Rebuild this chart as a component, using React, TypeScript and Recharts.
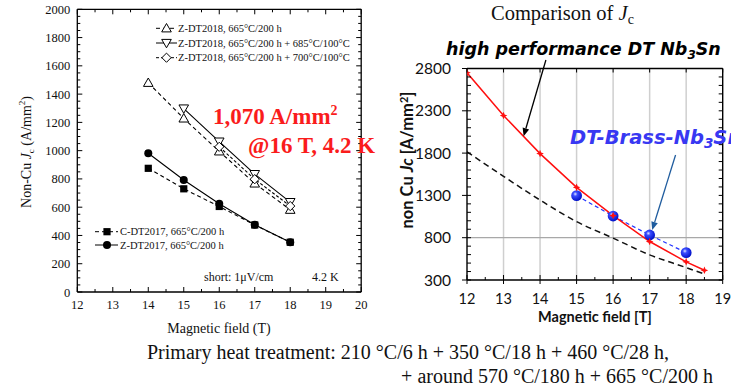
import React from 'react';
import { LineChart, Line, XAxis, YAxis, ReferenceLine } from 'recharts';

const SERIF = '"Liberation Serif", "Times New Roman", serif';
const SANS = 'Lato, "Noto Sans", sans-serif';
const POP = '"DejaVu Sans", sans-serif';

// ---------------- left panel data ----------------
const leftFields = [14, 15, 16, 17, 18];
const zdt2018Base = [1480, 1228, 995, 768, 582];
const zdt2018Plus685 = [null, 1298, 1064, 834, 636];
const zdt2018Plus700 = [null, null, 1027, 798, 608];
const cdt2017Base = [875, 730, 605, 474, 352];
const zdt2017Base = [982, 792, 624, 476, 352];

const leftLegendTop = [
  'Z-DT2018, 665°C/200 h',
  'Z-DT2018, 665°C/200 h + 685°C/100°C',
  'Z-DT2018, 665°C/200 h + 700°C/100°C',
];
const leftLegendBottom = ['C-DT2017, 665°C/200 h', 'Z-DT2017, 665°C/200 h'];

const leftXMajor = [12, 13, 14, 15, 16, 17, 18, 19, 20];
const leftYMajor = [0, 200, 400, 600, 800, 1000, 1200, 1400, 1600, 1800, 2000];

// ---------------- right panel data ----------------
const rightRedFields = [12, 13, 14, 15, 16, 17, 18, 18.5];
const rightRedJc = [2750, 2244, 1794, 1395, 1062, 755, 515, 415];
const rightBlueFields = [15, 16, 17, 18];
const rightBlueJc = [1297, 1056, 832, 623];
const rightBlackFields = [12, 13, 14, 15, 16, 17, 18, 18.5];
const rightBlackJc = [1815, 1525, 1245, 990, 795, 597, 447, 370];

const rightXMajor = [12, 13, 14, 15, 16, 17, 18, 19];
const rightYMajor = [300, 800, 1300, 1800, 2300, 2800];
const rightGridX = [13, 14, 15, 16, 17, 18];
const rightGridY = [800];

// annotation arrows (data coordinates of the right panel)
const blackArrow = [{ x: 14.16, y: 2900 }, { x: 13.55, y: 2000 }];
const blueArrow = [{ x: 17.71, y: 1778 }, { x: 17.07, y: 891 }];

const range = (a: number, b: number, step: number) => {
  const out: number[] = [];
  for (let v = a; v <= b + 1e-9; v += step) out.push(Math.round(v * 100) / 100);
  return out;
};
const leftXTicks = range(12, 20, 0.5);
const leftYTicks = range(0, 2000, 50);
const rightXTicks = range(12, 19, 0.5);
const rightYTicks = range(300, 2800, 100);

const toPoints = (xs: number[], ys: (number | null)[]) =>
  xs.map((x, i) => ({ field: x, jc: ys[i] })).filter((p) => p.jc !== null);

type Side = 'bottom' | 'top' | 'left' | 'right';
interface TickCfg {
  side: Side;
  major: number[];
  majorLen: number;
  minorLen: number;
  outLen?: number;
  label?: { font: string; size: number; gap: number };
}

function makeTick(cfg: TickCfg) {
  const { side, major, majorLen, minorLen, outLen = 0, label } = cfg;
  return (props: any) => {
    const { x, y, payload, index } = props;
    const v = Number(payload.value);
    const isMajor = major.some((m) => Math.abs(m - v) < 1e-6);
    const inLen = isMajor ? majorLen : minorLen;
    const o = isMajor ? outLen : 0;
    let x1 = x, y1 = y, x2 = x, y2 = y;
    if (side === 'bottom') { y1 = y + o; y2 = y - inLen; }
    if (side === 'top') { y1 = y - o; y2 = y + inLen; }
    if (side === 'left') { x1 = x - o; x2 = x + inLen; }
    if (side === 'right') { x1 = x + o; x2 = x - inLen; }
    let text = null;
    if (label && isMajor) {
      const common = { fontFamily: label.font, fontSize: label.size, fill: '#111' };
      if (side === 'bottom')
        text = <text x={x} y={y + label.gap} textAnchor="middle" {...common}>{v}</text>;
      else if (side === 'left')
        text = <text x={x - label.gap} y={y} dy="0.36em" textAnchor="end" {...common}>{v}</text>;
    }
    return (
      <g key={`t-${side}-${index}`}>
        {inLen + o > 0 && <line x1={x1} y1={y1} x2={x2} y2={y2} stroke="#000" strokeWidth={1} />}
        {text}
      </g>
    );
  };
}

type MarkerKind = 'triUp' | 'triDown' | 'diamond' | 'square' | 'circle';

function Marker({ kind, cx, cy }: { kind: MarkerKind; cx: number; cy: number }) {
  const st = { stroke: '#000', strokeWidth: 1 };
  if (kind === 'triUp') {
    const s = 4.8;
    return <polygon points={`${cx},${cy - s} ${cx - s},${cy + s * 0.75} ${cx + s},${cy + s * 0.75}`} fill="#fff" {...st} />;
  }
  if (kind === 'triDown') {
    const s = 4.8;
    return <polygon points={`${cx},${cy + s} ${cx - s},${cy - s * 0.75} ${cx + s},${cy - s * 0.75}`} fill="#fff" {...st} />;
  }
  if (kind === 'diamond') {
    const s = 4.6;
    return <polygon points={`${cx},${cy - s} ${cx + s},${cy} ${cx},${cy + s} ${cx - s},${cy}`} fill="#fff" {...st} />;
  }
  if (kind === 'square') {
    const s = 3.6;
    return <rect x={cx - s} y={cy - s} width={2 * s} height={2 * s} fill="#000" />;
  }
  return <circle cx={cx} cy={cy} r={4} fill="#000" />;
}

const leftSeries: { name: string; ys: (number | null)[]; marker: MarkerKind; dash?: string }[] = [
  { name: leftLegendBottom[0], ys: cdt2017Base, marker: 'square', dash: '4 3' },
  { name: leftLegendBottom[1], ys: zdt2017Base, marker: 'circle' },
  { name: leftLegendTop[0], ys: zdt2018Base, marker: 'triUp', dash: '4 3' },
  { name: leftLegendTop[1], ys: zdt2018Plus685, marker: 'triDown' },
  { name: leftLegendTop[2], ys: zdt2018Plus700, marker: 'diamond', dash: '3 2' },
];

function RedStar({ cx, cy }: { cx: number; cy: number }) {
  const pts: string[] = [];
  for (let k = 0; k < 8; k++) {
    const a = -Math.PI / 2 + (k * Math.PI) / 4;
    const r = k % 2 === 0 ? 3.8 : 1.6;
    pts.push(`${cx + r * Math.cos(a)},${cy + r * Math.sin(a)}`);
  }
  return <polygon points={pts.join(' ')} fill="#ff1010" />;
}

function BlueBall({ cx, cy, idx }: { cx: number; cy: number; idx: number }) {
  const id = `blueball-${idx}`;
  return (
    <g>
      <defs>
        <radialGradient id={id} cx="38%" cy="35%" r="65%">
          <stop offset="0%" stopColor="#dfe6ff" />
          <stop offset="30%" stopColor="#3a4cff" />
          <stop offset="100%" stopColor="#0010c8" />
        </radialGradient>
      </defs>
      <circle cx={cx} cy={cy} r={5.4} fill={`url(#${id})`} />
    </g>
  );
}

const arrowShape = (color: string, w: number, head: number) => (props: any) => {
  const { x1, y1, x2, y2 } = props;
  const a = Math.atan2(y2 - y1, x2 - x1);
  const bx = x2 - head * Math.cos(a);
  const by = y2 - head * Math.sin(a);
  const hw = head * 0.42;
  const p1 = `${bx - hw * Math.sin(a)},${by + hw * Math.cos(a)}`;
  const p2 = `${bx + hw * Math.sin(a)},${by - hw * Math.cos(a)}`;
  return (
    <g>
      <line x1={x1} y1={y1} x2={bx} y2={by} stroke={color} strokeWidth={w} />
      <polygon points={`${x2},${y2} ${p1} ${p2}`} fill={color} />
    </g>
  );
};

function LeftChart() {
  return (
    <LineChart width={380} height={340} margin={{ top: 8.3, right: 17.8, bottom: 47, left: 76.3 }}>
      <XAxis xAxisId="b" orientation="bottom" dataKey="field" type="number" domain={[12, 20]} allowDataOverflow
        ticks={leftXTicks} interval={0} height={1} tickSize={0} tickMargin={0} tickLine={false}
        axisLine={{ stroke: '#000', strokeWidth: 1.3 }}
        tick={makeTick({ side: 'bottom', major: leftXMajor, majorLen: 5, minorLen: 3, label: { font: SERIF, size: 12.5, gap: 17 } })} />
      <XAxis xAxisId="t" orientation="top" dataKey="field" type="number" domain={[12, 20]} allowDataOverflow
        ticks={leftXTicks} interval={0} height={1} tickSize={0} tickMargin={0} tickLine={false}
        axisLine={{ stroke: '#000', strokeWidth: 1.3 }}
        tick={makeTick({ side: 'top', major: leftXMajor, majorLen: 5, minorLen: 3 })} />
      <YAxis yAxisId="l" orientation="left" type="number" domain={[0, 2000]} allowDataOverflow
        ticks={leftYTicks} interval={0} width={1} tickSize={0} tickMargin={0} tickLine={false}
        axisLine={{ stroke: '#000', strokeWidth: 1.3 }}
        tick={makeTick({ side: 'left', major: leftYMajor, majorLen: 5, minorLen: 3, label: { font: SERIF, size: 12.5, gap: 7 } })} />
      <YAxis yAxisId="r" orientation="right" type="number" domain={[0, 2000]} allowDataOverflow
        ticks={leftYTicks} interval={0} width={1} tickSize={0} tickMargin={0} tickLine={false}
        axisLine={{ stroke: '#000', strokeWidth: 1.3 }}
        tick={makeTick({ side: 'right', major: leftYMajor, majorLen: 5, minorLen: 3 })} />
      {leftSeries.map((s, si) => (
        <Line key={s.name + si} xAxisId="b" yAxisId="l" data={toPoints(leftFields, s.ys)} dataKey="jc"
          name={s.name} type="linear" stroke="#000" strokeWidth={1.1} strokeDasharray={s.dash}
          isAnimationActive={false} legendType="none"
          dot={(p: any) => <Marker key={`m-${si}-${p.index}`} kind={s.marker} cx={p.cx} cy={p.cy} />} />
      ))}
    </LineChart>
  );
}

function RightChart() {
  return (
    <LineChart width={351} height={340} margin={{ top: 67.5, right: 7.3, bottom: 59, left: 86 }}>
      <XAxis xAxisId="b" orientation="bottom" dataKey="field" type="number" domain={[12, 19]} allowDataOverflow
        ticks={rightXTicks} interval={0} height={1} tickSize={0} tickMargin={0} tickLine={false}
        axisLine={{ stroke: '#000', strokeWidth: 1.4 }}
        tick={makeTick({ side: 'bottom', major: rightXMajor, majorLen: 5, minorLen: 3, outLen: 4, label: { font: SANS, size: 14.5, gap: 23.5 } })} />
      <XAxis xAxisId="t" orientation="top" dataKey="field" type="number" domain={[12, 19]} allowDataOverflow
        ticks={rightXTicks} interval={0} height={1} tickSize={0} tickMargin={0} tickLine={false}
        axisLine={{ stroke: '#000', strokeWidth: 1.4 }}
        tick={makeTick({ side: 'top', major: rightXMajor, majorLen: 4, minorLen: 0 })} />
      <YAxis yAxisId="l" orientation="left" type="number" domain={[300, 2800]} allowDataOverflow
        ticks={rightYTicks} interval={0} width={1} tickSize={0} tickMargin={0} tickLine={false}
        axisLine={{ stroke: '#000', strokeWidth: 1.4 }}
        tick={makeTick({ side: 'left', major: rightYMajor, majorLen: 4, minorLen: 4, outLen: 5, label: { font: SANS, size: 15.5, gap: 16 } })} />
      <YAxis yAxisId="r" orientation="right" type="number" domain={[300, 2800]} allowDataOverflow
        ticks={rightYTicks} interval={0} width={1} tickSize={0} tickMargin={0} tickLine={false}
        axisLine={{ stroke: '#000', strokeWidth: 1.4 }}
        tick={makeTick({ side: 'right', major: rightYMajor, majorLen: 4, minorLen: 4 })} />
      {rightGridX.map((v) => (
        <ReferenceLine key={`gx-${v}`} xAxisId="b" yAxisId="l" x={v} stroke="#cfcfcf" strokeWidth={1.5} />
      ))}
      {rightGridY.map((v) => (
        <ReferenceLine key={`gy-${v}`} xAxisId="b" yAxisId="l" y={v} stroke="#a8a8a8" strokeWidth={1.3} />
      ))}
      <Line xAxisId="b" yAxisId="l" data={toPoints(rightBlackFields, rightBlackJc)} dataKey="jc" type="monotone"
        stroke="#111" strokeWidth={1.5} strokeDasharray="6 4" dot={false} isAnimationActive={false} />
      <Line xAxisId="b" yAxisId="l" data={toPoints(rightBlueFields, rightBlueJc)} dataKey="jc" type="linear"
        stroke="#2233ff" strokeWidth={1.2} strokeDasharray="4 3" isAnimationActive={false}
        dot={(p: any) => <BlueBall key={`bb-${p.index}`} cx={p.cx} cy={p.cy} idx={p.index} />} />
      <Line xAxisId="b" yAxisId="l" data={toPoints(rightRedFields, rightRedJc)} dataKey="jc" type="linear"
        stroke="#ff1010" strokeWidth={1.5} isAnimationActive={false}
        dot={(p: any) => <RedStar key={`rs-${p.index}`} cx={p.cx} cy={p.cy} />} />
      <ReferenceLine xAxisId="b" yAxisId="l" segment={blackArrow} ifOverflow="visible"
        shape={arrowShape('#000', 1.3, 8)} />
      <ReferenceLine xAxisId="b" yAxisId="l" segment={blueArrow} ifOverflow="visible"
        shape={arrowShape('#1f5c9e', 1.3, 8)} />
    </LineChart>
  );
}

const topLegendRows = [28.3, 43, 57.7];
const bottomLegendRows = [231.7, 245];

function Overlay() {
  const top = leftSeries.filter((s) => leftLegendTop.includes(s.name));
  const bottom = leftSeries.filter((s) => leftLegendBottom.includes(s.name));
  return (
    <svg width={731} height={392} style={{ position: 'absolute', left: 0, top: 0, pointerEvents: 'none', overflow: 'hidden' }}>
      {top.map((s, i) => (
        <g key={`lt-${i}`}>
          <line x1={156} y1={topLegendRows[i]} x2={177} y2={topLegendRows[i]} stroke="#000" strokeWidth={1} strokeDasharray={s.dash} />
          <Marker kind={s.marker} cx={166.5} cy={topLegendRows[i]} />
          <text x={178} y={topLegendRows[i] + 3.6} fontFamily={SERIF} fontSize={10.5} fill="#111">{s.name}</text>
        </g>
      ))}
      {bottom.map((s, i) => (
        <g key={`lb-${i}`}>
          <line x1={95} y1={bottomLegendRows[i]} x2={118} y2={bottomLegendRows[i]} stroke="#000" strokeWidth={1} strokeDasharray={s.dash} />
          <Marker kind={s.marker} cx={107} cy={bottomLegendRows[i]} />
          <text x={120} y={bottomLegendRows[i] + 3.6} fontFamily={SERIF} fontSize={10.5} fill="#111">{s.name}</text>
        </g>
      ))}
      <text x={204} y={280.5} fontFamily={SERIF} fontSize={12} fill="#111">short: 1μV/cm</text>
      <text x={312} y={280.5} fontFamily={SERIF} fontSize={12} fill="#111">4.2 K</text>

      <text x={219} y={333} textAnchor="middle" fontFamily={SERIF} fontSize={14} fill="#111">Magnetic field (T)</text>
      <text x={31} y={152} textAnchor="middle" transform="rotate(-90 31 152)" fontFamily={SERIF} fontSize={14} fill="#111">
        Non-Cu <tspan fontStyle="italic">J</tspan><tspan fontSize={9} dy={3}>c</tspan><tspan dy={-3}> (A/mm</tspan><tspan fontSize={9} dy={-6}>2</tspan><tspan dy={6}>)</tspan>
      </text>

      <text x={213} y={124} fontFamily={SERIF} fontWeight="bold" fontSize={23} fill="#fa1c1c">
        1,070 A/mm<tspan fontSize={14} dy={-9}>2</tspan>
      </text>
      <text x={248} y={152.5} fontFamily={SERIF} fontWeight="bold" fontSize={23} fill="#fa1c1c">@16 T, 4.2 K</text>

      <text x={491} y={20} fontFamily={SERIF} fontSize={20.5} fill="#111">
        Comparison of <tspan fontStyle="italic">J</tspan><tspan fontSize={14} dy={4}>c</tspan>
      </text>
      <text x={446} y={55} fontFamily={POP} fontWeight="bold" fontStyle="italic" fontSize={17.5} fill="#000">
        high performance DT Nb<tspan fontSize={12} dy={4}>3</tspan><tspan dy={-4}>Sn</tspan>
      </text>
      <text x={570} y={144} fontFamily={POP} fontWeight="bold" fontStyle="italic" fontSize={19.5} fill="#3838f2">
        DT-Brass-Nb<tspan fontSize={13.5} dy={4}>3</tspan><tspan dy={-4}>Sn</tspan>
      </text>
      <text x={595} y={322} textAnchor="middle" fontFamily={SANS} fontWeight="bold" fontSize={14.5} fill="#111">Magnetic field [T]</text>
      <text x={413} y={160} textAnchor="middle" transform="rotate(-90 413 160)" fontFamily={SANS} fontWeight="bold" fontSize={16.5} fill="#111">
        non Cu <tspan fontStyle="italic">Jc</tspan> [A/mm<tspan fontSize={11} dy={-5}>2</tspan><tspan dy={5}>]</tspan>
      </text>

      <text x={147} y={359} fontFamily={SERIF} fontSize={20} fill="#111">
        Primary heat treatment: 210 °C/6 h + 350 °C/18 h + 460 °C/28 h,
      </text>
      <text x={713} y={383} textAnchor="end" fontFamily={SERIF} fontSize={20} fill="#111">
        + around 570 °C/180 h + 665 °C/200 h
      </text>
    </svg>
  );
}

export default function App() {
  return (
    <div style={{ position: 'absolute', left: 0, top: 0, width: 731, height: 392, background: '#fff', overflow: 'hidden' }}>
      <div style={{ position: 'absolute', left: 0, top: 0 }}>
        <LeftChart />
      </div>
      <div style={{ position: 'absolute', left: 380, top: 0 }}>
        <RightChart />
      </div>
      <Overlay />
    </div>
  );
}
